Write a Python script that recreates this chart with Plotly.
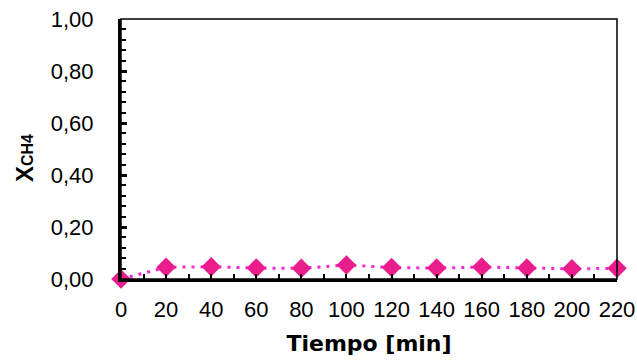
import plotly.graph_objects as go

# Conversión de metano frente al tiempo
tiempo_min = [0, 20, 40, 60, 80, 100, 120, 140, 160, 180, 200, 220]
x_ch4 = [0.000, 0.045, 0.047, 0.042, 0.041, 0.054, 0.044, 0.042, 0.046, 0.042, 0.039, 0.041]

x_ticks = list(range(0, 221, 20))
y_ticks = [0.0, 0.2, 0.4, 0.6, 0.8, 1.0]
y_tick_text = ["0,00", "0,20", "0,40", "0,60", "0,80", "1,00"]

sans = "Liberation Sans, Arial, sans-serif"
wide_sans = "DejaVu Sans, sans-serif"

fig = go.Figure()
fig.add_trace(go.Scatter(
    x=tiempo_min,
    y=x_ch4,
    mode="lines+markers",
    line=dict(color="rgb(245,40,210)", width=3, dash="3px,6px"),
    marker=dict(symbol="diamond", size=15, color="rgb(233,30,140)",
                line=dict(width=0)),
    cliponaxis=False,
    showlegend=False,
))

fig.update_layout(
    width=637,
    height=360,
    margin=dict(l=121, r=20, t=19, b=81, autoexpand=False),
    paper_bgcolor="white",
    plot_bgcolor="white",
    font=dict(family=sans, size=22, color="black"),
    xaxis=dict(
        range=[0, 220],
        tickmode="array",
        tickvals=x_ticks,
        ticks="inside",
        ticklen=5,
        tickwidth=2,
        tickcolor="black",
        tickfont=dict(family=sans, size=22),
        minor=dict(dtick=10, tick0=0, ticks="inside", ticklen=5,
                   tickwidth=2, tickcolor="black"),
        showline=True,
        linewidth=2.5,
        linecolor="black",
        showgrid=False,
        zeroline=False,
        automargin=False,
        ticklabelstandoff=9,
        title=dict(text="<b>Tiempo [min]</b>",
                   font=dict(family=wide_sans, size=22), standoff=15),
        fixedrange=True,
    ),
    yaxis=dict(
        range=[0, 1],
        tickmode="array",
        tickvals=y_ticks,
        ticktext=y_tick_text,
        ticks="inside",
        ticklen=6,
        tickwidth=2.5,
        tickcolor="black",
        tickfont=dict(family=sans, size=22),
        minor=dict(dtick=0.04, tick0=0, ticks="inside", ticklen=5,
                   tickwidth=2, tickcolor="black"),
        showline=True,
        linewidth=3,
        linecolor="black",
        showgrid=False,
        zeroline=False,
        automargin=False,
        ticklabelstandoff=20,
        fixedrange=True,
    ),
    shapes=[dict(type="rect", xref="paper", yref="paper", x0=0, y0=0, x1=1, y1=1,
                 line=dict(color="black", width=1.5), layer="above")],
    annotations=[dict(
        text="<b>X<span style='font-size:16px'>CH4</span></b>",
        textangle=-90,
        xref="paper", yref="paper",
        x=(24 - 121) / 496, y=(279 - 158) / 260,
        xanchor="center", yanchor="middle",
        showarrow=False,
        font=dict(family=sans, size=24, color="black"),
    )],
)

fig.write_html("out.html")
